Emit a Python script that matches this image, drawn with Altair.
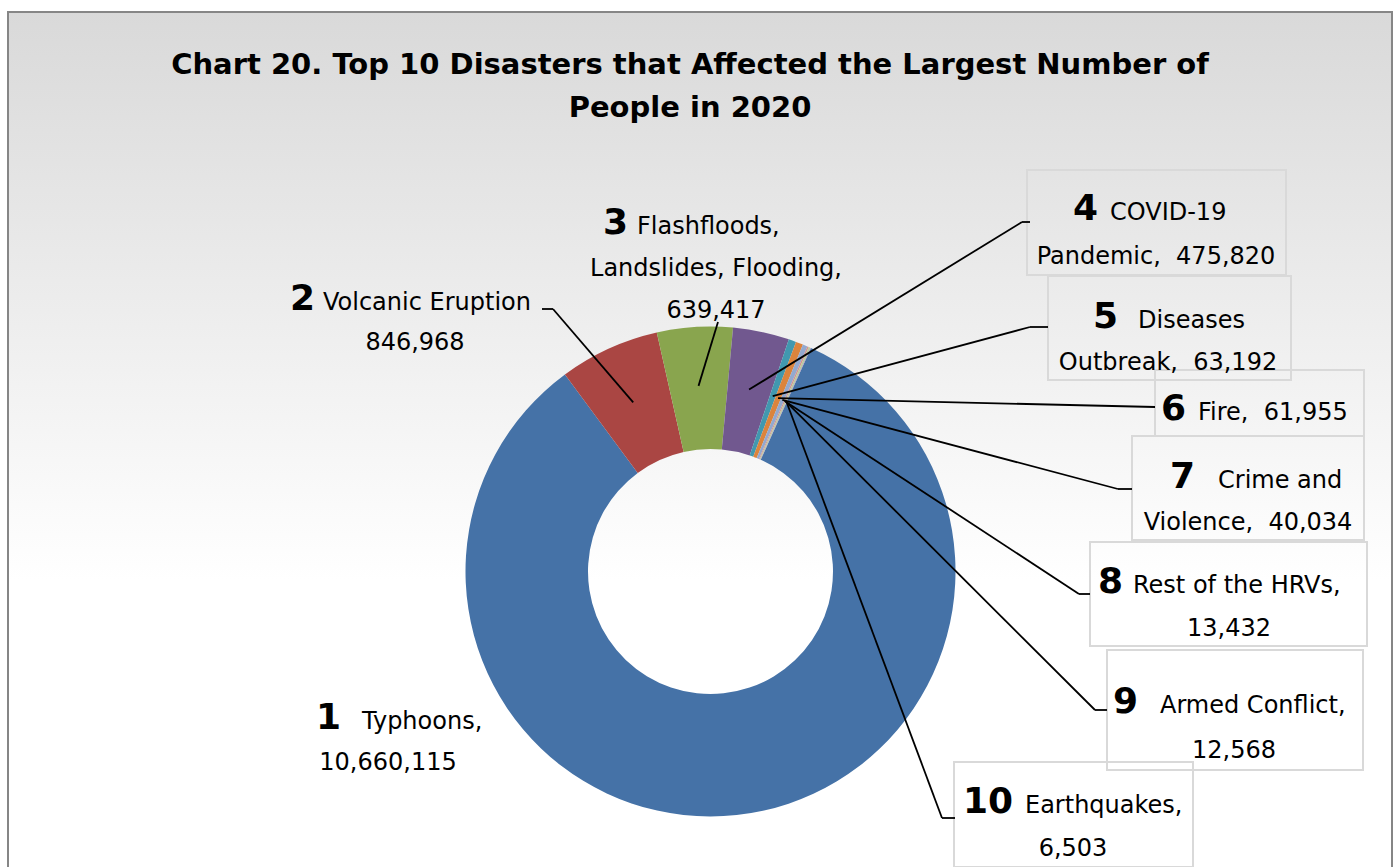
import math
import altair as alt
import pandas as pd

# ---------------- data ----------------
ranks = [1, 2, 3, 4, 5, 6, 7, 8, 9, 10]
names = ["Typhoons", "Volcanic Eruption", "Flashfloods, Landslides, Flooding",
         "COVID-19 Pandemic", "Diseases Outbreak", "Fire", "Crime and Violence",
         "Rest of the HRVs", "Armed Conflict", "Earthquakes"]
values = [10660115, 846968, 639417, 475820, 63192, 61955, 40034, 13432, 12568, 6503]
colors = ["#4572A7", "#AA4643", "#89A54E", "#71588F", "#4198AF",
          "#DB843D", "#93A9CF", "#D19392", "#B9CD96", "#A99BBD"]
title_lines = ["Chart 20. Top 10 Disasters that Affected the Largest Number of",
               "People in 2020"]

fmt = [f"{v:,}" for v in values]
SP = "\u00a0 "
label_lines = [
    ["Typhoons,", fmt[0]],
    ["Volcanic Eruption", fmt[1]],
    ["Flashfloods,", "Landslides, Flooding,", fmt[2]],
    ["COVID-19", "Pandemic," + SP + fmt[3]],
    ["Diseases", "Outbreak," + SP + fmt[4]],
    ["Fire," + SP + fmt[5]],
    ["Crime and", "Violence," + SP + fmt[6]],
    ["Rest of the HRVs,", fmt[7]],
    ["Armed Conflict,", fmt[8]],
    ["Earthquakes,", fmt[9]],
]

# ---------------- layout ----------------
W, H = 1396, 867
CX, CY = 710.5, 571.5
R_OUT, R_IN, R_ANCHOR = 245, 122.5, 186
START_DEG = 24.2
FONT = "Comic Sans MS, DejaVu Sans, sans-serif"

# num_x, text_x, baseline1, center_x, line_gap, box, elbow, end
layout = [
    (316, 362, 729, 388, 41, None, None, None),
    (290, 323, 310, 415, 40, None, (553, 309), (542, 309)),
    (603, 637, 234, 716, 42, None, None, (718, 322)),
    (1073, 1110, 220, 1156, 44, (1027, 170, 1286, 275), (1022, 222), (1030, 222)),
    (1093, 1138, 328, 1168, 42, (1048, 276, 1291, 380), (1030, 327), (1048, 327)),
    (1161, 1198, 420, None, 0, (1155, 370, 1364, 436), None, (1155, 407)),
    (1170, 1218, 488, 1248, 42, (1132, 436, 1364, 540), (1118, 489), (1132, 489)),
    (1098, 1133, 593, 1229, 43, (1090, 542, 1367, 646), (1079, 594), (1090, 594)),
    (1113, 1160, 713, 1234, 45, (1107, 650, 1363, 770), (1095, 710), (1107, 710)),
    (963, 1025, 813, 1073, 43, (954, 762, 1193, 867), (942, 818), (955, 818)),
]

# ---------------- derived tables ----------------
total = sum(values)
anchors = []
cum = 0
for v in values:
    mid = math.radians(START_DEG + (cum + v / 2) / total * 360)
    anchors.append((CX + R_ANCHOR * math.sin(mid), CY - R_ANCHOR * math.cos(mid)))
    cum += v

arc_df = pd.DataFrame({"rank": ranks, "name": names, "value": values})

num_rows, first_rows, center_rows, box_rows, seg_rows = [], [], [], [], []
for i, (nx, tx, by, cx, gap, box, elbow, end) in enumerate(layout):
    num_rows.append({"t": str(ranks[i]), "x": nx, "y": by})
    first_rows.append({"t": label_lines[i][0], "x": tx, "y": by})
    for k, ln in enumerate(label_lines[i][1:], start=1):
        center_rows.append({"t": ln, "x": cx, "y": by + gap * k})
    if box:
        box_rows.append({"x": box[0], "y": box[1], "x2": box[2], "y2": box[3]})
    if end:
        pts = [anchors[i]] + ([elbow] if elbow else []) + [end]
        for a, b in zip(pts[:-1], pts[1:]):
            seg_rows.append({"x": a[0], "y": a[1], "x2": b[0], "y2": b[1]})

title_df = pd.DataFrame({"t": title_lines, "x": [690, 690], "y": [74, 117]})

xs = alt.Scale(domain=[0, W], range=[0, W], nice=False, zero=False)
ys = alt.Scale(domain=[0, H], range=[0, H], nice=False, zero=False)


def X(f="x"):
    return alt.X(f"{f}:Q", scale=xs, axis=None)


def Y(f="y"):
    return alt.Y(f"{f}:Q", scale=ys, axis=None)


bg = alt.Chart(pd.DataFrame({"k": [0]})).mark_rect(
    fill=alt.LinearGradient(
        gradient="linear",
        stops=[alt.GradientStop(color="#d9d9d9", offset=0),
               alt.GradientStop(color="#ffffff", offset=0.64),
               alt.GradientStop(color="#ffffff", offset=1)],
        x1=0, x2=0, y1=0, y2=1),
    stroke="#868686", strokeWidth=2,
).encode(x=alt.value(8), x2=alt.value(1392), y=alt.value(12), y2=alt.value(900))

boxes = alt.Chart(pd.DataFrame(box_rows)).mark_rect(
    filled=False, stroke="#d9d9d9", strokeWidth=2
).encode(x=X(), y=Y(), x2="x2:Q", y2="y2:Q")

arc = alt.Chart(arc_df).mark_arc(radius=R_OUT, radius2=R_IN, strokeWidth=0).encode(
    theta=alt.Theta("value:Q", stack=True,
                    scale=alt.Scale(range=[math.radians(START_DEG),
                                           math.radians(START_DEG) + 2 * math.pi])),
    order=alt.Order("rank:Q", sort="ascending"),
    color=alt.Color("name:N", scale=alt.Scale(domain=names, range=colors), legend=None),
    x=alt.value(CX), y=alt.value(CY),
)

segs = alt.Chart(pd.DataFrame(seg_rows)).mark_rule(color="black", strokeWidth=1.8).encode(
    x=X(), y=Y(), x2="x2:Q", y2="y2:Q")

nums = alt.Chart(pd.DataFrame(num_rows)).mark_text(
    font=FONT, fontSize=36, fontWeight="bold", align="left", baseline="alphabetic", color="black"
).encode(x=X(), y=Y(), text="t:N")

firsts = alt.Chart(pd.DataFrame(first_rows)).mark_text(
    font=FONT, fontSize=24, align="left", baseline="alphabetic", color="black"
).encode(x=X(), y=Y(), text="t:N")

centers = alt.Chart(pd.DataFrame(center_rows)).mark_text(
    font=FONT, fontSize=24, align="center", baseline="alphabetic", color="black"
).encode(x=X(), y=Y(), text="t:N")

title = alt.Chart(title_df).mark_text(
    font=FONT, fontSize=29, fontWeight="bold", align="center", baseline="alphabetic", color="black"
).encode(x=X(), y=Y(), text="t:N")

chart = alt.layer(bg, boxes, arc, segs, nums, firsts, centers, title).properties(
    width=W, height=H, padding=0, autosize="none", background="white"
).configure_view(stroke=None)

chart.save("out.html", embed_options={"renderer": "svg", "actions": False})
